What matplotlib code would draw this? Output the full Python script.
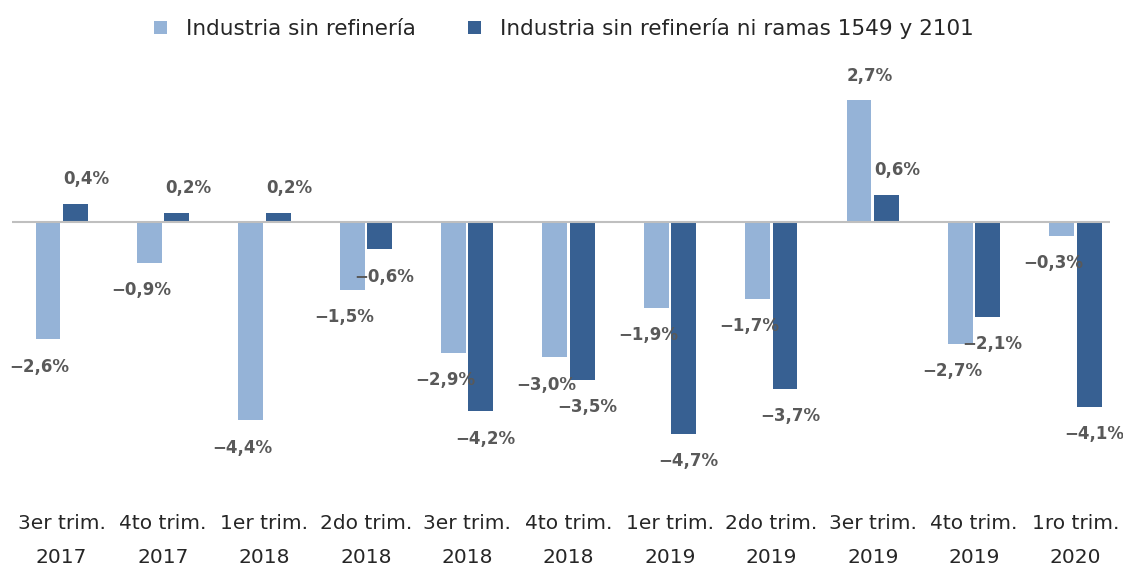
import numpy as np
import matplotlib
matplotlib.use("Agg")
import matplotlib.pyplot as plt

categories = ["3er trim.\n2017", "4to trim.\n2017", "1er trim.\n2018", "2do trim.\n2018",
              "3er trim.\n2018", "4to trim.\n2018", "1er trim.\n2019", "2do trim.\n2019",
              "3er trim.\n2019", "4to trim.\n2019", "1ro trim.\n2020"]
sin_refineria = [-2.6, -0.9, -4.4, -1.5, -2.9, -3.0, -1.9, -1.7, 2.7, -2.7, -0.3]
sin_refineria_ramas = [0.4, 0.2, 0.2, -0.6, -4.2, -3.5, -4.7, -3.7, 0.6, -2.1, -4.1]
series_names = ["Industria sin refinería", "Industria sin refinería ni ramas 1549 y 2101"]

light = "#95B3D7"
dark = "#376092"
label_color = "#595959"


def fmt(v):
    s = f"{abs(v):.1f}".replace(".", ",") + "%"
    return ("\u2212" + s) if v < 0 else s


fig = plt.figure(figsize=(11.23, 5.69), dpi=100)
ax = fig.add_axes([12 / 1123, 95 / 569, 1098 / 1123, 396 / 569])

x = np.arange(len(categories))
w = 0.245
off = 0.135
b1 = ax.bar(x - off, sin_refineria, w, color=light, label=series_names[0], zorder=2)
b2 = ax.bar(x + off, sin_refineria_ramas, w, color=dark, label=series_names[1], zorder=2)

ax.axhline(0, color="#BFBFBF", linewidth=1.5, zorder=3)

# data labels (offsets in points)
for bars, vals, dx_neg in ((b1, sin_refineria, -6), (b2, sin_refineria_ramas, 3.5)):
    for rect, v in zip(bars, vals):
        cx = rect.get_x() + rect.get_width() / 2
        if v >= 0:
            dx, dy = 8, 18
        else:
            dx, dy = dx_neg, -20
        ax.annotate(fmt(v), (cx, v), xytext=(dx, dy), textcoords="offset points",
                    ha="center", va="center", fontsize=12, fontweight="bold",
                    color=label_color)

ax.set_xlim(-0.49, 10.34)
ax.set_ylim(-5.6, 3.2)
ax.set_yticks([])
for s in ax.spines.values():
    s.set_visible(False)

ax.set_xticks(x)
ax.set_xticklabels(categories, fontsize=14.5, color="#262626", linespacing=2.0)
ax.tick_params(axis="x", length=0, pad=29)

fig.legend(handles=[b1, b2], labels=series_names, loc="upper center",
           bbox_to_anchor=(0.502, 1.002), ncol=2, frameon=False, fontsize=15.5,
           handlelength=0.6, handleheight=0.6, handletextpad=0.9, columnspacing=2.4,
           labelcolor="#262626")

fig.savefig("out.png", dpi=100)
